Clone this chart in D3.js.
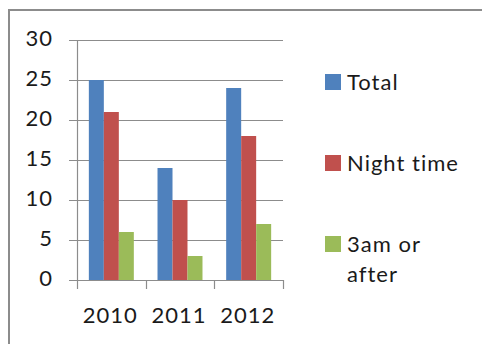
<!DOCTYPE html>
<html>
<head>
<meta charset="utf-8">
<script src="https://cdn.jsdelivr.net/npm/d3@7"></script>
<style>
  html, body { margin: 0; padding: 0; background: #fff; }
  svg { display: block; }
  text { font-family: Lato, "Open Sans", sans-serif; fill: #1a1a1a; font-size: 22px; }
</style>
</head>
<body>
<svg id="chart" width="482" height="344"></svg>
<script>
// Incident counts per year
const years = ["2010", "2011", "2012"];
const seriesNames = ["Total", "Night time", "3am or after"];
const totalValues = [25, 14, 24];
const nightValues = [21, 10, 18];
const lateValues = [6, 3, 7];
const yTicks = [0, 5, 10, 15, 20, 25, 30];
const colors = ["#4F81BD", "#C0504D", "#9BBB59"];

const seriesValues = [totalValues, nightValues, lateValues];

const svg = d3.select("#chart");

// outer frame (runs past the right and bottom edges)
svg.append("rect")
  .attr("x", 9).attr("y", 10)
  .attr("width", 500).attr("height", 400)
  .attr("fill", "none").attr("stroke", "#8c8c8c").attr("stroke-width", 2);

const plot = { left: 77, right: 283, top: 40, bottom: 280 };

const x = d3.scaleBand().domain(years).range([plot.left, plot.right]).paddingInner(0).paddingOuter(0);
const xInner = d3.scaleBand().domain(seriesNames).range([0, x.bandwidth()]).paddingOuter(0.79).paddingInner(0);
const y = d3.scaleLinear().domain([0, 30]).range([plot.bottom, plot.top]);

// gridlines with left tick stubs
svg.append("g").selectAll("line").data(yTicks).join("line")
  .attr("x1", plot.left - 8).attr("x2", plot.right)
  .attr("y1", d => Math.round(y(d)) + 0.5).attr("y2", d => Math.round(y(d)) + 0.5)
  .attr("stroke", "#8c8c8c").attr("stroke-width", 1.2);

// y tick labels
svg.append("g").selectAll("text").data(yTicks).join("text")
  .attr("x", 53).attr("y", d => y(d) + 6)
  .attr("text-anchor", "end")
  .style("letter-spacing", "1px")
  .text(d => d);

// bars
years.forEach((yr, i) => {
  seriesNames.forEach((s, j) => {
    svg.append("rect")
      .attr("x", x(yr) + xInner(s))
      .attr("y", y(seriesValues[j][i]))
      .attr("width", xInner.bandwidth())
      .attr("height", y(0) - y(seriesValues[j][i]))
      .attr("fill", colors[j]);
  });
});

// y axis line
svg.append("line")
  .attr("x1", plot.left + 0.5).attr("x2", plot.left + 0.5)
  .attr("y1", plot.top).attr("y2", plot.bottom)
  .attr("stroke", "#8c8c8c").attr("stroke-width", 1.2);

// category ticks
const catEdges = years.map(d => x(d)).concat([plot.right]);
svg.append("g").selectAll("line").data(catEdges).join("line")
  .attr("x1", d => Math.round(d) + 0.5).attr("x2", d => Math.round(d) + 0.5)
  .attr("y1", plot.bottom).attr("y2", plot.bottom + 9)
  .attr("stroke", "#8c8c8c").attr("stroke-width", 1.2);

// x labels
svg.append("g").selectAll("text").data(years).join("text")
  .attr("x", d => x(d) + x.bandwidth() / 2 - 1)
  .attr("y", 323).attr("text-anchor", "middle")
  .style("letter-spacing", "1px")
  .text(d => d);

// legend
const legendRows = [
  { lines: ["Total"], base: 90 },
  { lines: ["Night time"], base: 171 },
  { lines: ["3am or", "after"], base: 252 }
];
legendRows.forEach((row, i) => {
  svg.append("rect")
    .attr("x", 325).attr("y", row.base - 16)
    .attr("width", 16).attr("height", 16)
    .attr("fill", colors[i]);
  row.lines.forEach((ln, k) => {
    svg.append("text")
      .attr("x", 347).attr("y", row.base + k * 30)
      .style("letter-spacing", "1px")
      .text(ln);
  });
});
</script>
</body>
</html>
